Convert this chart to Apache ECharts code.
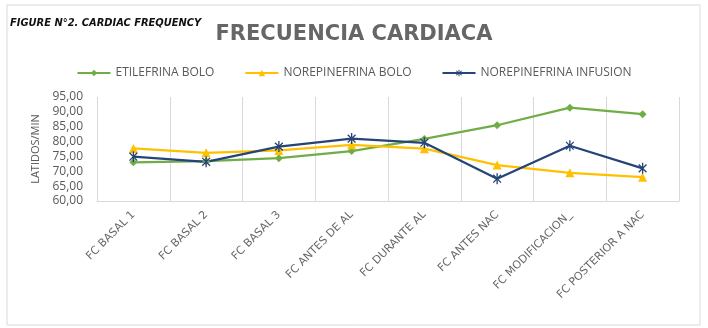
<!DOCTYPE html>
<html>
<head>
<meta charset="utf-8">
<script src="https://cdn.jsdelivr.net/npm/echarts@6/dist/echarts.min.js"></script>
<style>
  html, body { margin: 0; padding: 0; background: #fff; }
  #chart { width: 708px; height: 328px; }
</style>
</head>
<body>
<div id="chart"></div>
<script>
// data
const categories = ['FC BASAL 1', 'FC BASAL 2', 'FC BASAL 3', 'FC ANTES DE AL', 'FC DURANTE AL', 'FC ANTES NAC', 'FC MODIFICACION_', 'FC POSTERIOR A NAC'];
const etilefrinaBolo = [73.0, 73.4, 74.4, 76.8, 80.9, 85.5, 91.4, 89.2];
const norepiBolo = [77.7, 76.2, 77.0, 78.9, 77.6, 72.1, 69.5, 68.0];
const norepiInfusion = [74.9, 73.2, 78.3, 81.0, 79.6, 67.5, 78.6, 71.0];
const seriesNames = ['ETILEFRINA BOLO', 'NOREPINEFRINA BOLO', 'NOREPINEFRINA INFUSION'];

// asterisk marker: vertical bar plus two diagonals
function asteriskPath() {
  const w = 1.2, r = 10;
  let d = '';
  [90, 45, 135].forEach(a => {
    const t = a * Math.PI / 180;
    const dx = Math.cos(t), dy = Math.sin(t);
    const px = -dy * w, py = dx * w;
    const pts = [
      [r * dx + px, r * dy + py],
      [r * dx - px, r * dy - py],
      [-r * dx - px, -r * dy - py],
      [-r * dx + px, -r * dy + py]
    ];
    d += 'M' + pts.map(p => p[0].toFixed(2) + ',' + p[1].toFixed(2)).join(' L') + ' Z ';
  });
  return 'path://' + d;
}

const grey = '#595959';
const chart = echarts.init(document.getElementById('chart'));

chart.setOption({
  backgroundColor: '#fff',
  animation: false,
  graphic: [
    {
      type: 'rect',
      shape: { x: 7, y: 5, width: 693, height: 320 },
      style: { fill: 'none', stroke: '#d9d9d9', lineWidth: 1 }
    },
    {
      type: 'text',
      left: 10,
      top: 18,
      style: {
        text: 'FIGURE N°2. CARDIAC FREQUENCY',
        font: 'italic bold 11px "Liberation Sans Narrow", "DejaVu Sans Condensed", sans-serif',
        fill: '#111'
      }
    }
  ],
  title: {
    text: 'FRECUENCIA CARDIACA',
    left: 'center',
    top: 19,
    textStyle: { fontFamily: 'DejaVu Sans', fontSize: 21, fontWeight: 'bold', color: '#666' }
  },
  legend: {
    top: 62,
    left: 'center',
    itemWidth: 33,
    itemHeight: 8,
    itemGap: 30,
    textStyle: { fontFamily: 'Open Sans', fontSize: 12, color: grey },
    data: seriesNames
  },
  grid: { left: 97, right: 29, top: 97, bottom: 127 },
  xAxis: {
    type: 'category',
    data: categories,
    boundaryGap: true,
    axisLine: { lineStyle: { color: '#d9d9d9' } },
    axisTick: { show: false },
    splitLine: { show: true, lineStyle: { color: '#d9d9d9', width: 1 } },
    axisLabel: {
      rotate: 45,
      interval: 0,
      margin: 12,
      fontFamily: 'DejaVu Sans',
      fontSize: 11,
      color: '#666'
    }
  },
  yAxis: {
    type: 'value',
    min: 60,
    max: 95,
    interval: 5,
    name: 'LATIDOS/MIN',
    nameLocation: 'middle',
    nameGap: 46,
    nameTextStyle: { fontFamily: 'Open Sans', fontSize: 11, color: grey },
    axisLine: { show: false },
    axisTick: { show: false },
    splitLine: { show: false },
    axisLabel: {
      fontFamily: 'Open Sans',
      fontSize: 12,
      color: grey,
      margin: 14,
      formatter: v => v.toFixed(2).replace('.', ',')
    }
  },
  series: [
    {
      name: seriesNames[0],
      type: 'line',
      data: etilefrinaBolo,
      color: '#70ad47',
      symbol: 'diamond',
      symbolSize: 8,
      lineStyle: { width: 2.25 }
    },
    {
      name: seriesNames[1],
      type: 'line',
      data: norepiBolo,
      color: '#ffc000',
      symbol: 'triangle',
      symbolSize: 9,
      lineStyle: { width: 2.25 }
    },
    {
      name: seriesNames[2],
      type: 'line',
      data: norepiInfusion,
      color: '#264478',
      symbol: asteriskPath(),
      symbolSize: 11,
      symbolKeepAspect: true,
      lineStyle: { width: 2.25 }
    }
  ]
});
</script>
</body>
</html>
